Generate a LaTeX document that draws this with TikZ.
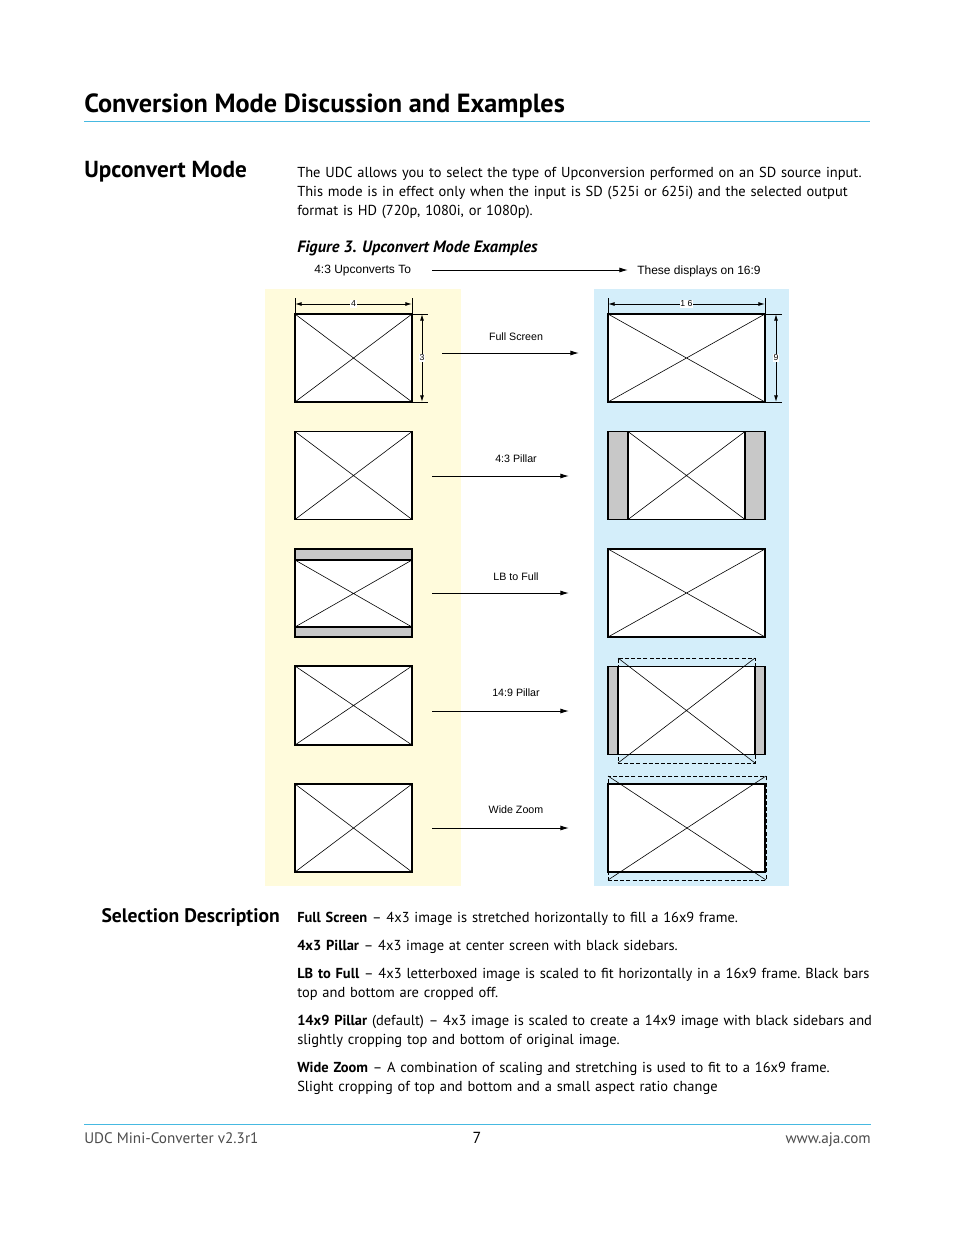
\documentclass[tikz,border=0pt]{standalone}
\usepackage{fontspec}
\setmainfont{PT Sans}
\newfontfamily\figfont{Liberation Sans}
\usepackage{xcolor}
\usepackage{tikz}
\usetikzlibrary{arrows.meta,positioning}

\definecolor{padyellow}{RGB}{255,251,220}
\definecolor{padblue}{RGB}{212,238,250}
\definecolor{bargray}{RGB}{200,200,200}
\definecolor{rulecyan}{RGB}{70,185,225}

\newcommand{\bodyfont}{%
  \fontsize{10.85}{14.25}\selectfont
  \frenchspacing}

\begin{document}
\begin{tikzpicture}[
x=0.75pt, y=-0.75pt,
scr/.style={
    rectangle, draw, line width=1pt,
    fill=white,
    inner sep=0pt, outer sep=0pt,
    minimum height=66pt
},
sd/.style={scr, minimum width=87.75pt},
hd/.style={scr, minimum width=117.75pt},
crop/.style={
    rectangle, draw, dash pattern=on 3pt off 1.6pt, line width=0.75pt,
    inner sep=0pt, outer sep=0pt
},
xln/.style={line width=0.45pt},
bar/.style={draw, fill=bargray, line width=1pt},
arr/.style={-{Latex[length=6.5pt,width=3.8pt]}, line width=0.75pt},
dim/.style={{Latex[length=5pt,width=3pt]}-{Latex[length=5pt,width=3pt]}, line width=0.7pt},
ext/.style={line width=0.7pt},
dimlbl/.style={fill=white, inner sep=0.6pt, font=\figfont\fontsize{6.5}{7.5}\selectfont},
lbl/.style={inner sep=0pt, font=\figfont\fontsize{8}{9.6}\selectfont},
toplbl/.style={lbl, anchor=west, font=\figfont\fontsize{9}{10.8}\selectfont},
body/.style={
    anchor=base west, align=left,
    inner sep=0pt, text width=480pt,
    font=\bodyfont
}
]

\fill[white] (0,0) rectangle (954,1235);
\useasboundingbox (0,0) rectangle (954,1235);

% page heading
\node[anchor=base west, inner sep=0pt, font=\fontsize{19.7}{23}\selectfont\bfseries] (title) at (84,112) {Conversion Mode Discussion and Examples};
\draw[rulecyan, line width=0.6pt] (84,121) -- (870,121);

\node[anchor=base west, inner sep=0pt, font=\fontsize{17.4}{20}\selectfont\bfseries] (upmode) at (84,177) {Upconvert Mode};
\node[body] (intro) at (297,177) {The UDC allows you to select the type of Upconversion performed on an SD source input.\\
This mode is in effect only when the input is SD (525i or 625i) and the selected output\\
format is HD (720p, 1080i, or 1080p).};

\node[anchor=base west, inner sep=0pt, font=\fontsize{12.3}{14}\selectfont\bfseries\itshape] (cap) at (297,252) {Figure 3. Upconvert Mode Examples};

% figure
\node[toplbl] (upto) at (314,271) {4:3 Upconverts To};
\node[toplbl] (disp) at (637,271) {These displays on 16:9};
\draw[arr] ([xshift=15.75pt]upto.east |- 0,270) -- ([xshift=-6.75pt]disp.west |- 0,270);

\fill[padyellow] (265,289) rectangle (461,886);
\fill[padblue] (594,289) rectangle (789,886);

% 4:3 sources
\node[sd] (fs43) at (353.5,358) {};
\node[sd] (p43) at (353.5,475.5) {};
\node[sd] (lb43) at (353.5,593) {};
\node[sd, minimum height=59.25pt] (p1443) at (353.5,705.5) {};
\node[sd] (wz43) at (353.5,828) {};

% 16:9 results
\node[hd] (fs169) at (686.5,358) {};
\node[hd] (p169) at (686.5,475.5) {};
\node[hd] (lb169) at (686.5,593) {};
\node[hd] (p14169) at (686.5,710.5) {};
\node[hd] (wz169) at (686.5,828) {};

\foreach \s in {fs43,p43,p1443,wz43,fs169,lb169}
    \draw[xln] (\s.north west) -- (\s.south east) (\s.south west) -- (\s.north east);

% letterbox bars
\draw[bar] (lb43.north west) rectangle ([yshift=-8.25pt]lb43.north east);
\draw[bar] (lb43.south west) rectangle ([yshift=7.5pt]lb43.south east);
\draw[xln] ([yshift=-8.25pt]lb43.north west) -- ([yshift=7.5pt]lb43.south east)
           ([yshift=7.5pt]lb43.south west) -- ([yshift=-8.25pt]lb43.north east);

% 4:3 pillar bars
\draw[bar] (p169.north west) rectangle ([xshift=15pt]p169.south west);
\draw[bar] (p169.north east) rectangle ([xshift=-15pt]p169.south east);
\draw[xln] ([xshift=15pt]p169.north west) -- ([xshift=-15pt]p169.south east)
           ([xshift=15pt]p169.south west) -- ([xshift=-15pt]p169.north east);

% 14:9 pillar
\draw[bar] (p14169.north west) rectangle ([xshift=7.5pt]p14169.south west);
\draw[bar] (p14169.north east) rectangle ([xshift=-7.5pt]p14169.south east);
\node[crop, minimum width=102.75pt, minimum height=78.75pt] (c149) at (686.5,710.5) {};
\draw[xln] (c149.north west) -- (c149.south east) (c149.south west) -- (c149.north east);

% wide zoom
\node[crop, minimum width=118.5pt, minimum height=78pt] (cwz) at (687,828) {};
\draw[xln] (cwz.north west) -- (cwz.south east) (cwz.south west) -- (cwz.north east);

% dimensions 4:3
\draw[ext] ([yshift=12pt]fs43.north west) -- (fs43.north west);
\draw[ext] ([yshift=12pt]fs43.north east) -- (fs43.north east);
\draw[dim] ([yshift=7.5pt]fs43.north west) -- node[dimlbl] {4} ([yshift=7.5pt]fs43.north east);
\draw[ext] (fs43.north east) -- ([xshift=12pt]fs43.north east);
\draw[ext] (fs43.south east) -- ([xshift=12pt]fs43.south east);
\draw[dim] ([xshift=7.5pt]fs43.north east) -- node[dimlbl] {3} ([xshift=7.5pt]fs43.south east);

% dimensions 16:9
\draw[ext] ([yshift=12pt]fs169.north west) -- (fs169.north west);
\draw[ext] ([yshift=12pt]fs169.north east) -- (fs169.north east);
\draw[dim] ([yshift=7.5pt]fs169.north west) -- node[dimlbl] {1 6} ([yshift=7.5pt]fs169.north east);
\draw[ext] (fs169.north east) -- ([xshift=12.75pt]fs169.north east);
\draw[ext] (fs169.south east) -- ([xshift=12.75pt]fs169.south east);
\draw[dim] ([xshift=8.25pt]fs169.north east) -- node[dimlbl] {9} ([xshift=8.25pt]fs169.south east);

% mode arrows
\coordinate (fsa) at (442,353);
\coordinate (fsb) at (579,353);
\coordinate (p43a) at (432,476);
\coordinate (p43b) at (569,476);
\coordinate (lba) at (432,593);
\coordinate (lbb) at (569,593);
\coordinate (p149a) at (432,711);
\coordinate (p149b) at (569,711);
\coordinate (wza) at (432,828);
\coordinate (wzb) at (569,828);
\draw[arr] (fsa) -- (fsb);
\draw[arr] (p43a) -- (p43b);
\draw[arr] (lba) -- (lbb);
\draw[arr] (p149a) -- (p149b);
\draw[arr] (wza) -- (wzb);
\node[lbl] (fslbl) at (516,337) {Full Screen};
\node[lbl] (p43lbl) at (516,459) {4:3 Pillar};
\node[lbl] (lblbl) at (516,577) {LB to Full};
\node[lbl] (p149lbl) at (516,693) {14:9 Pillar};
\node[lbl] (wzlbl) at (516,810) {Wide Zoom};

% selection description
\node[anchor=base east, inner sep=0pt, font=\fontsize{14.7}{17}\selectfont\bfseries] (seldesc) at (280,922) {Selection Description};
\node[body] (dfs) at (297,922) {\textbf{Full Screen} -- 4x3 image is stretched horizontally to fill a 16x9 frame.};
\node[body] (dp43) at (297,950) {\textbf{4x3 Pillar} -- 4x3 image at center screen with black sidebars.};
\node[body] (dlb) at (297,978) {\textbf{LB to Full} -- 4x3 letterboxed image is scaled to fit horizontally in a 16x9 frame. Black bars\\
top and bottom are cropped off.};
\node[body] (dp149) at (297,1025) {\textbf{14x9 Pillar} (default) -- 4x3 image is scaled to create a 14x9 image with black sidebars and\\
slightly cropping top and bottom of original image.};
\node[body] (dwz) at (297,1072) {\textbf{Wide Zoom} -- A combination of scaling and stretching is used to fit to a 16x9 frame.\\
Slight cropping of top and bottom and a small aspect ratio change};

% footer
\draw[rulecyan, line width=0.6pt] (84,1124) -- (871,1124);
\node[anchor=base west, inner sep=0pt, text=black!70, font=\fontsize{11.4}{13}\selectfont] (ftl) at (84,1143) {UDC Mini-Converter v2.3r1};
\node[anchor=base, inner sep=0pt, font=\fontsize{12}{14}\selectfont] (ftn) at (477,1143) {7};
\node[anchor=base east, inner sep=0pt, text=black!70, font=\fontsize{11.4}{13}\selectfont] (ftr) at (871,1143) {www.aja.com};

\end{tikzpicture}
\end{document}
